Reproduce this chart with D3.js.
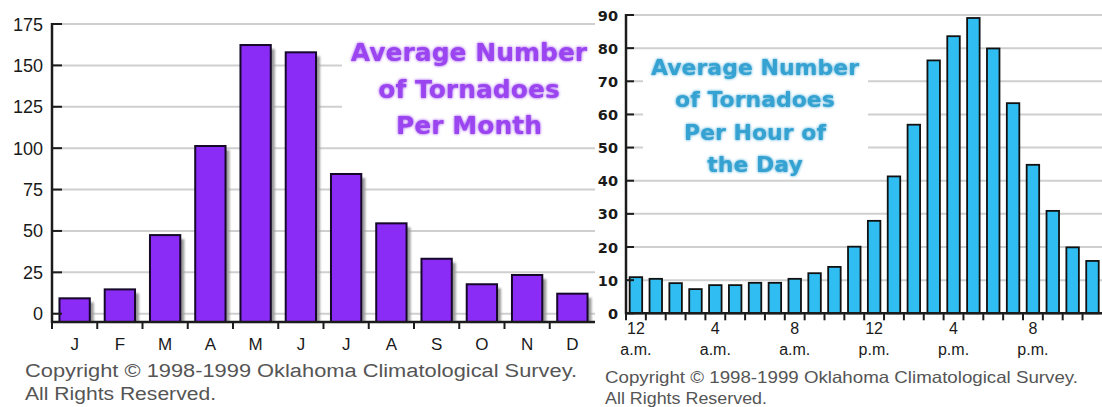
<!DOCTYPE html>
<html>
<head>
<meta charset="utf-8">
<script src="https://cdn.jsdelivr.net/npm/d3@7"></script>
<style>
  html, body { margin: 0; padding: 0; background: #fff; }
  svg { display: block; }
</style>
</head>
<body>
<svg id="chart" width="1102" height="407"></svg>
<script>
// Monthly averages
const monthNames = ["Jan","Feb","Mar","Apr","May","Jun","Jul","Aug","Sep","Oct","Nov","Dec"];
const monthLabels = ["J","F","M","A","M","J","J","A","S","O","N","D"];
const monthValues = [9.3, 14.7, 47.5, 101.3, 162.3, 157.9, 84.4, 54.6, 33.2, 17.8, 23.4, 12.1];
const monthTicks = [0, 25, 50, 75, 100, 125, 150, 175];

// Hourly averages (midnight through 11 p.m.)
const hours = ["0","1","2","3","4","5","6","7","8","9","10","11","12","13","14","15","16","17","18","19","20","21","22","23"];
const hourValues = [10.9, 10.4, 9.1, 7.3, 8.5, 8.5, 9.2, 9.2, 10.4, 12.1, 14.0, 20.1,
                    27.9, 41.3, 56.9, 76.3, 83.6, 89.1, 79.9, 63.4, 44.8, 30.9, 19.9, 15.8];
const hourTicks = [0, 10, 20, 30, 40, 50, 60, 70, 80, 90];
const hourLabelKeys = ["0", "4", "8", "12", "16", "20"];
const hourLabelTop = ["12", "4", "8", "12", "4", "8"];
const hourLabelBottom = ["a.m.", "a.m.", "a.m.", "p.m.", "p.m.", "p.m."];

const monthTitle = ["Average Number", "of Tornadoes", "Per Month"];
const hourTitle = ["Average Number", "of Tornadoes", "Per Hour of", "the Day"];
const copyright = ["Copyright \u00A9 1998-1999 Oklahoma Climatological Survey.", "All Rights Reserved."];

const svg = d3.select("#chart");
const defs = svg.append("defs");
const glow = defs.append("filter").attr("id", "glow").attr("x", "-10%").attr("y", "-30%").attr("width", "120%").attr("height", "160%");
glow.append("feGaussianBlur").attr("in", "SourceGraphic").attr("stdDeviation", 1.6).attr("result", "b");
const gm = glow.append("feMerge");
gm.append("feMergeNode").attr("in", "b");
gm.append("feMergeNode").attr("in", "SourceGraphic");
const soft = defs.append("filter").attr("id", "soft");
soft.append("feGaussianBlur").attr("stdDeviation", 0.8);

const axisColor = "#1c1c1c";
const gridColor = "#cfcfcf";

// ---------- Tornadoes per month ----------
{
  const g = svg.append("g");
  const x = d3.scaleBand().domain(monthNames).range([52, 595]).paddingInner(0.33).paddingOuter(0.165);
  const y = d3.scaleLinear().domain([-5, 175]).range([322, 24]);
  const base = y.range()[0];

  g.selectAll("line.grid").data(monthTicks).join("line")
    .attr("x1", 52).attr("x2", 595)
    .attr("y1", d => y(d)).attr("y2", d => y(d))
    .attr("stroke", gridColor).attr("stroke-width", 2);

  // title panel hides the grid behind the text
  g.append("rect").attr("x", 342).attr("y", 30).attr("width", 256).attr("height", 112).attr("fill", "#fff");

  const title = g.append("text").attr("font-family", "DejaVu Sans").attr("font-weight", "bold")
    .attr("font-size", 25).attr("fill", "#9a45f0").attr("text-anchor", "middle").attr("filter", "url(#glow)");
  monthTitle.forEach((t, i) => title.append("tspan").attr("x", 469).attr("y", 61 + i * 36.5).text(t));

  // drop shadows
  g.selectAll("rect.shadow").data(monthValues).join("rect")
    .attr("x", (d, i) => x(monthNames[i]) + 4)
    .attr("y", d => y(d) + 4)
    .attr("width", x.bandwidth())
    .attr("height", d => base - y(d) - 4)
    .attr("fill", "#9a9a9a").attr("filter", "url(#soft)");

  g.selectAll("rect.bar").data(monthValues).join("rect")
    .attr("x", (d, i) => x(monthNames[i]))
    .attr("y", d => y(d))
    .attr("width", x.bandwidth())
    .attr("height", d => base - y(d))
    .attr("fill", "#8a2cf6").attr("stroke", "#16082a").attr("stroke-width", 2);

  // axes
  g.append("line").attr("x1", 52).attr("x2", 52).attr("y1", y(175) - 1).attr("y2", base + 1)
    .attr("stroke", axisColor).attr("stroke-width", 2.5);
  g.append("line").attr("x1", 51).attr("x2", 595).attr("y1", base).attr("y2", base)
    .attr("stroke", axisColor).attr("stroke-width", 2.5);
  g.selectAll("line.yt").data(monthTicks).join("line")
    .attr("x1", 52).attr("x2", 62).attr("y1", d => y(d)).attr("y2", d => y(d))
    .attr("stroke", axisColor).attr("stroke-width", 2);
  g.selectAll("line.xt").data(d3.range(monthNames.length)).join("line")
    .attr("x1", i => x.range()[0] + i * x.step()).attr("x2", i => x.range()[0] + i * x.step())
    .attr("y1", base).attr("y2", base + 7)
    .attr("stroke", axisColor).attr("stroke-width", 2);

  g.selectAll("text.yl").data(monthTicks).join("text")
    .attr("x", 43).attr("y", d => y(d) + 6.5)
    .attr("text-anchor", "end").attr("font-family", "Liberation Sans").attr("font-size", 18)
    .attr("fill", "#1a1a1a").text(d => d);
  g.selectAll("text.xl").data(monthLabels).join("text")
    .attr("x", (d, i) => x(monthNames[i]) + x.bandwidth() / 2).attr("y", 349.5)
    .attr("text-anchor", "middle").attr("font-family", "Liberation Sans").attr("font-size", 17)
    .attr("fill", "#1a1a1a").text(d => d);

  g.selectAll("text.cr").data(copyright).join("text")
    .attr("x", 25).attr("y", (d, i) => 377 + i * 23)
    .attr("font-family", "Liberation Sans").attr("font-size", 18).attr("fill", "#555")
    .attr("textLength", (d, i) => i === 0 ? 552 : 191).attr("lengthAdjust", "spacingAndGlyphs")
    .text(d => d);
}

// ---------- Tornadoes per hour of the day ----------
{
  const g = svg.append("g");
  const x = d3.scaleBand().domain(hours).range([626, 1102.4]).paddingInner(0.37).paddingOuter(0.185);
  const y = d3.scaleLinear().domain([0, 90]).range([313.3, 15]);
  const base = y(0);

  g.selectAll("line.grid").data(hourTicks).join("line")
    .attr("x1", 626).attr("x2", 1102)
    .attr("y1", d => y(d)).attr("y2", d => y(d))
    .attr("stroke", gridColor).attr("stroke-width", 2);

  g.append("rect").attr("x", 643).attr("y", 54).attr("width", 225).attr("height", 120).attr("fill", "#fff");

  const title = g.append("text").attr("font-family", "DejaVu Sans").attr("font-weight", "bold")
    .attr("font-size", 22).attr("fill", "#34a2d2").attr("text-anchor", "middle").attr("filter", "url(#glow)");
  hourTitle.forEach((t, i) => title.append("tspan").attr("x", 755).attr("y", 75 + i * 32.3).text(t));

  g.selectAll("rect.bar").data(hourValues).join("rect")
    .attr("x", (d, i) => x(hours[i]))
    .attr("y", d => y(d))
    .attr("width", x.bandwidth())
    .attr("height", d => base - y(d))
    .attr("fill", "#2fbdf2").attr("stroke", "#111").attr("stroke-width", 1.8);

  g.append("line").attr("x1", 626).attr("x2", 626).attr("y1", y(90) - 1).attr("y2", base + 1)
    .attr("stroke", axisColor).attr("stroke-width", 2.5);
  g.append("line").attr("x1", 625).attr("x2", 1102).attr("y1", base).attr("y2", base)
    .attr("stroke", axisColor).attr("stroke-width", 2.5);
  g.selectAll("line.yt").data(hourTicks).join("line")
    .attr("x1", 626).attr("x2", 634).attr("y1", d => y(d)).attr("y2", d => y(d))
    .attr("stroke", axisColor).attr("stroke-width", 2);
  g.selectAll("line.xt").data(d3.range(hours.length)).join("line")
    .attr("x1", i => x.range()[0] + i * x.step()).attr("x2", i => x.range()[0] + i * x.step())
    .attr("y1", base).attr("y2", base + 7)
    .attr("stroke", axisColor).attr("stroke-width", 2);

  g.selectAll("text.yl").data(hourTicks).join("text")
    .attr("x", 618).attr("y", d => y(d) + 5.5)
    .attr("text-anchor", "end").attr("font-family", "DejaVu Sans").attr("font-weight", "bold")
    .attr("font-size", 14.5).attr("fill", "#1a1a1a").text(d => d);

  const lab = g.selectAll("text.xl").data(hourLabelKeys).join("text")
    .attr("text-anchor", "middle").attr("font-family", "Liberation Sans").attr("font-size", 16)
    .attr("fill", "#1a1a1a");
  lab.append("tspan").attr("x", d => x(d) + x.bandwidth() / 2).attr("y", 334).text((d, i) => hourLabelTop[i]);
  lab.append("tspan").attr("x", d => x(d) + x.bandwidth() / 2).attr("y", 355).text((d, i) => hourLabelBottom[i]);

  g.selectAll("text.cr").data(copyright).join("text")
    .attr("x", 605).attr("y", (d, i) => 383 + i * 21)
    .attr("font-family", "Liberation Sans").attr("font-size", 16.5).attr("fill", "#555")
    .attr("textLength", (d, i) => i === 0 ? 473 : 162).attr("lengthAdjust", "spacingAndGlyphs")
    .text(d => d);
}
</script>
</body>
</html>
